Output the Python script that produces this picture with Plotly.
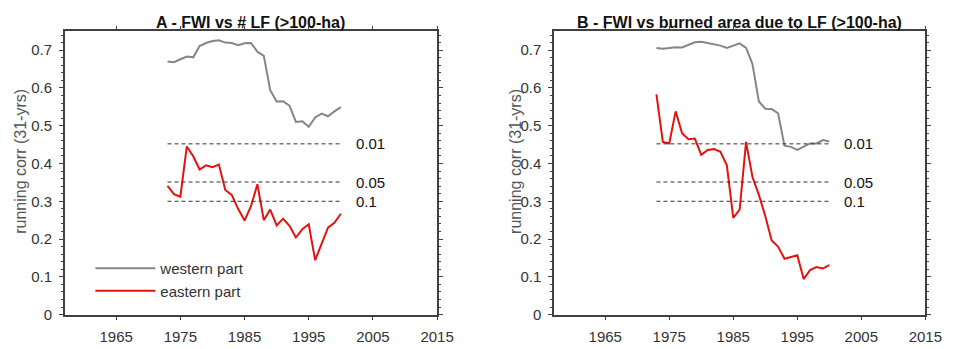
import plotly.graph_objects as go

years = list(range(1973, 2001))

# Panel A: FWI vs number of large fires
a_western = [0.670, 0.668, 0.676, 0.683, 0.681, 0.711, 0.719, 0.724, 0.726, 0.720,
             0.719, 0.713, 0.718, 0.719, 0.696, 0.685, 0.594, 0.564, 0.565, 0.553,
             0.510, 0.512, 0.497, 0.522, 0.532, 0.525, 0.538, 0.549]
a_eastern = [0.341, 0.319, 0.312, 0.445, 0.419, 0.384, 0.395, 0.390, 0.397, 0.330,
             0.317, 0.280, 0.249, 0.287, 0.345, 0.250, 0.278, 0.236, 0.254, 0.235,
             0.204, 0.226, 0.239, 0.144, 0.187, 0.230, 0.243, 0.267]

# Panel B: FWI vs burned area due to large fires
b_western = [0.706, 0.704, 0.706, 0.708, 0.707, 0.715, 0.721, 0.722, 0.719, 0.715,
             0.712, 0.706, 0.713, 0.718, 0.706, 0.663, 0.564, 0.545, 0.544, 0.533,
             0.447, 0.444, 0.436, 0.444, 0.453, 0.453, 0.462, 0.458]
b_eastern = [0.583, 0.457, 0.453, 0.538, 0.480, 0.464, 0.466, 0.423, 0.436, 0.438,
             0.431, 0.395, 0.256, 0.278, 0.457, 0.364, 0.317, 0.261, 0.196, 0.180,
             0.148, 0.152, 0.157, 0.094, 0.118, 0.126, 0.122, 0.131]

sig_values = [0.452, 0.351, 0.300]
sig_labels = ["0.01", "0.05", "0.1"]
sig_span = [1973, 2000]
sig_label_x = 2002

titles = ["A - FWI vs # LF (>100-ha)", "B - FWI vs burned area due to LF (>100-ha)"]
xtick_vals = [1965, 1975, 1985, 1995, 2005, 2015]
ytick_vals = [0, 0.1, 0.2, 0.3, 0.4, 0.5, 0.6, 0.7]

W, H = 960, 349
FONT = "Liberation Sans, Arial, sans-serif"
AX = "#404040"
TXT = "#333333"
GREY = "#868686"
RED = "#e3130f"

fig = go.Figure()

panels = [("x", "y", a_western, a_eastern), ("x2", "y2", b_western, b_eastern)]
for i, (xa, ya, west, east) in enumerate(panels):
    fig.add_trace(go.Scatter(x=years, y=west, mode="lines", xaxis=xa, yaxis=ya,
                             line=dict(color=GREY, width=2), name="western part",
                             showlegend=(i == 0)))
    fig.add_trace(go.Scatter(x=years, y=east, mode="lines", xaxis=xa, yaxis=ya,
                             line=dict(color=RED, width=2), name="eastern part",
                             showlegend=(i == 0)))
    for v, lab in zip(sig_values, sig_labels):
        fig.add_trace(go.Scatter(x=sig_span, y=[v, v], mode="lines", xaxis=xa, yaxis=ya,
                                 line=dict(color="#333333", width=1, dash="4px,3px"),
                                 showlegend=False, hoverinfo="skip"))
        fig.add_annotation(x=sig_label_x, y=v, xref=xa, yref=ya, text=lab,
                           showarrow=False, xanchor="left", yanchor="middle",
                           font=dict(family=FONT, size=15, color="#111111"))

ytop = (H - 32) / H
ybot = (H - 322) / H
domA = [66 / W, 445 / W]
domB = [564 / W, 942 / W]

common_x = dict(range=[1957, 2015], tickvals=xtick_vals, ticks="outside", ticklen=4,
                tickcolor=AX, showline=True, linecolor=AX, linewidth=1.5, mirror="ticks",
                showgrid=False, zeroline=False, ticklabelstandoff=4,
                tickfont=dict(family=FONT, size=15, color=TXT))
common_y = dict(range=[0, 0.75], tickvals=ytick_vals, ticks="outside", ticklen=4,
                tickcolor=AX, showline=True, linecolor=AX, linewidth=1.5, mirror="ticks",
                showgrid=False, zeroline=False, ticklabelstandoff=4,
                minor=dict(dtick=0.02, ticks="outside", ticklen=2, tickcolor=AX),
                tickfont=dict(family=FONT, size=15, color=TXT))

fig.update_layout(
    width=W, height=H, margin=dict(l=0, r=0, t=0, b=0),
    paper_bgcolor="white", plot_bgcolor="white",
    xaxis=dict(domain=domA, anchor="y", **common_x),
    yaxis=dict(domain=[ybot, ytop], anchor="x", **common_y),
    xaxis2=dict(domain=domB, anchor="y2", **common_x),
    yaxis2=dict(domain=[ybot, ytop], anchor="x2", **common_y),
    showlegend=True,
    legend=dict(x=92 / W, y=(H - 258) / H, xanchor="left", yanchor="top",
                bgcolor="rgba(0,0,0,0)", itemwidth=60, tracegroupgap=0,
                font=dict(family=FONT, size=15, color=TXT)),
)

# Titles
for dom, t in zip([domA, domB], titles):
    fig.add_annotation(x=(dom[0] + dom[1]) / 2, y=(H - 23) / H, xref="paper", yref="paper",
                       text="<b>" + t + "</b>", showarrow=False, xanchor="center",
                       yanchor="middle", font=dict(family=FONT, size=16, color="#111111"))

# Y axis titles
for xpx in [21, 525]:
    fig.add_annotation(x=xpx / W, y=(H - 165) / H, xref="paper", yref="paper",
                       text="running corr (31-yrs)", showarrow=False, textangle=-90,
                       xanchor="center", yanchor="middle",
                       font=dict(family=FONT, size=16, color="#555555"))

fig.write_html("out.html")
